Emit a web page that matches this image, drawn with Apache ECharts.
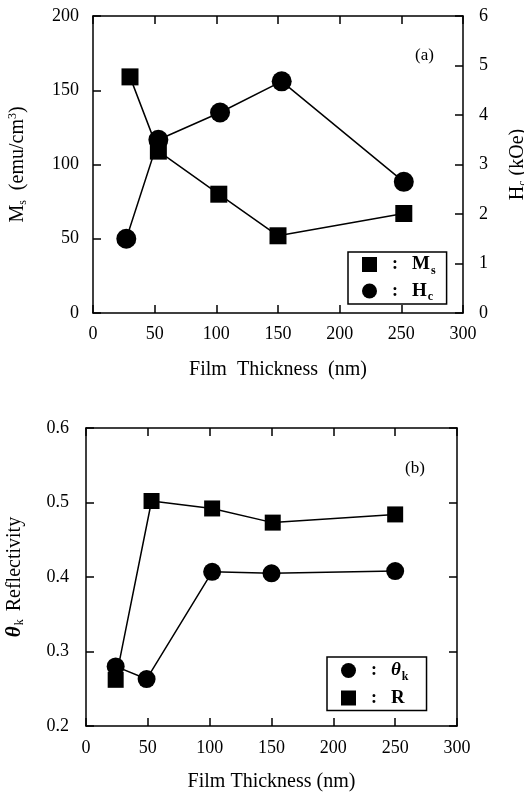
<!DOCTYPE html>
<html>
<head>
<meta charset="utf-8">
<script src="https://cdn.jsdelivr.net/npm/echarts@6/dist/echarts.min.js"></script>
<style>
  html, body { margin: 0; padding: 0; background: #fff; }
  #chart { width: 524px; height: 795px; }
</style>
</head>
<body>
<div id="chart"></div>
<script>
// panel (a): Ms and Hc vs film thickness
const thicknessMs = [30, 53, 102, 150, 252]
const msValues = [159, 109, 80, 52, 67]
const thicknessHc = [27, 53, 103, 153, 252]
const hcValues = [1.5, 3.5, 4.05, 4.68, 2.65]

// panel (b): Kerr rotation and reflectivity vs film thickness
const thicknessTheta = [24, 49, 102, 150, 250]
const thetaValues = [0.280, 0.263, 0.407, 0.405, 0.408]
const thicknessR = [24, 53, 102, 151, 250]
const rValues = [0.262, 0.502, 0.492, 0.473, 0.484]

const xTicks = [0, 300, 50]
const yTicksMs = [0, 200, 50]
const yTicksHc = [0, 6, 1]
const yTicksB = [0.2, 0.6, 0.1]

const pairs = (xs, ys) => xs.map((x, i) => [x, ys[i]])

const FONT = '"Liberation Serif", "DejaVu Serif", serif'
const lineStyle = { color: '#000', width: 1.5 }

const frameAxis = (extra) => Object.assign({
  type: 'value',
  splitLine: { show: false },
  axisLine: { show: true, onZero: false, lineStyle },
  axisTick: { show: true, inside: true, length: 8, lineStyle },
  axisLabel: { show: true, color: '#000', fontFamily: FONT, fontSize: 18 },
  nameTextStyle: { color: '#000', fontFamily: FONT, fontSize: 20 }
}, extra)

const hidden = { show: false }
const tickLabel = (margin, extra) => Object.assign({ color: '#000', fontFamily: FONT, fontSize: 18, margin }, extra)

const legendRich = {
  c: { fontFamily: FONT, fontSize: 18, fontWeight: 'bold', color: '#000', padding: [0, 14, 0, 10] },
  b: { fontFamily: FONT, fontSize: 19, fontWeight: 'bold', color: '#000' },
  bi: { fontFamily: FONT, fontSize: 19, fontWeight: 'bold', fontStyle: 'italic', color: '#000' },
  sub: { fontFamily: FONT, fontSize: 12, fontWeight: 'bold', color: '#000', verticalAlign: 'bottom', padding: [12, 0, 0, 1] }
}

const legendLabels = {
  Ms: '{c|:}{b|M}{sub|s}',
  Hc: '{c|:}{b|H}{sub|c}',
  θk: '{c|:}{bi|θ}{sub|k}',
  R: '{c|:}{b|R}'
}

const chart = echarts.init(document.getElementById('chart'))

const option = {
  backgroundColor: '#fff',
  animation: false,
  grid: [
    { left: 93, top: 16, width: 370, height: 297, outerBoundsMode: 'none' },
    { left: 86, top: 428, width: 371, height: 298, outerBoundsMode: 'none' }
  ],
  xAxis: [
    frameAxis({
      gridIndex: 0, min: xTicks[0], max: xTicks[1], interval: xTicks[2],
      axisLabel: tickLabel(12),
      name: 'Film  Thickness  (nm)', nameLocation: 'middle', nameGap: 47
    }),
    frameAxis({
      gridIndex: 0, position: 'top', min: xTicks[0], max: xTicks[1], interval: xTicks[2],
      axisLabel: hidden
    }),
    frameAxis({
      gridIndex: 1, min: xTicks[0], max: xTicks[1], interval: xTicks[2],
      axisLabel: tickLabel(13),
      name: 'Film Thickness (nm)', nameLocation: 'middle', nameGap: 46
    }),
    frameAxis({
      gridIndex: 1, position: 'top', min: xTicks[0], max: xTicks[1], interval: xTicks[2],
      axisLabel: hidden
    })
  ],
  yAxis: [
    frameAxis({
      gridIndex: 0, min: yTicksMs[0], max: yTicksMs[1], interval: yTicksMs[2],
      axisLabel: tickLabel(14),
      name: '{n|M}{sub|s}{n|  (emu/cm}{sup|3}{n|)}', nameLocation: 'middle', nameRotate: 90, nameGap: 64,
      nameTextStyle: {
        rich: {
          n: { fontFamily: FONT, fontSize: 20, color: '#000' },
          sub: { fontFamily: FONT, fontSize: 12, color: '#000', verticalAlign: 'bottom', padding: [10, 0, 0, 0] },
          sup: { fontFamily: FONT, fontSize: 12, color: '#000', verticalAlign: 'top', padding: [0, 0, 9, 0] }
        }
      }
    }),
    frameAxis({
      gridIndex: 0, position: 'right', min: yTicksHc[0], max: yTicksHc[1], interval: yTicksHc[2],
      axisLabel: tickLabel(16),
      name: '{n|H}{sub|c}{n| (kOe)}', nameLocation: 'middle', nameRotate: 90, nameGap: 44,
      nameTextStyle: {
        rich: {
          n: { fontFamily: FONT, fontSize: 20, color: '#000' },
          sub: { fontFamily: FONT, fontSize: 12, color: '#000', verticalAlign: 'bottom', padding: [10, 0, 0, 0] }
        }
      }
    }),
    frameAxis({
      gridIndex: 1, min: yTicksB[0], max: yTicksB[1], interval: yTicksB[2],
      axisLabel: tickLabel(17, { formatter: v => v.toFixed(1) }),
      name: '{t|θ}{sub|k}{n| Reflectivity}', nameLocation: 'middle', nameRotate: 90, nameGap: 60,
      nameTextStyle: {
        rich: {
          t: { fontFamily: FONT, fontSize: 21, fontStyle: 'italic', fontWeight: 'bold', color: '#000' },
          n: { fontFamily: FONT, fontSize: 20, color: '#000' },
          sub: { fontFamily: FONT, fontSize: 12, color: '#000', verticalAlign: 'bottom', padding: [10, 3, 0, 1] }
        }
      }
    }),
    frameAxis({
      gridIndex: 1, position: 'right', min: yTicksB[0], max: yTicksB[1], interval: yTicksB[2],
      axisLabel: hidden
    })
  ],
  legend: [
    {
      data: [{ name: 'Ms', icon: 'rect' }, { name: 'Hc', icon: 'circle' }],
      left: 348, top: 252, orient: 'vertical',
      itemWidth: 15, itemHeight: 15, itemGap: 5,
      padding: [3, 11, 1, 14],
      borderColor: '#000', borderWidth: 1.5,
      formatter: name => legendLabels[name],
      textStyle: { rich: legendRich }
    },
    {
      data: [{ name: 'θk', icon: 'circle' }, { name: 'R', icon: 'rect' }],
      left: 327, top: 657, orient: 'vertical',
      itemWidth: 15, itemHeight: 15, itemGap: 6,
      padding: [4, 18, 3, 14],
      borderColor: '#000', borderWidth: 1.5,
      formatter: name => legendLabels[name],
      textStyle: { rich: legendRich }
    }
  ],
  graphic: [
    { type: 'text', left: 415, top: 47, style: { text: '(a)', font: '17px ' + FONT, fill: '#000' } },
    { type: 'text', left: 405, top: 460, style: { text: '(b)', font: '17px ' + FONT, fill: '#000' } }
  ],
  series: [
    {
      name: 'Ms', type: 'line', xAxisIndex: 0, yAxisIndex: 0,
      data: pairs(thicknessMs, msValues),
      symbol: 'rect', symbolSize: 17,
      itemStyle: { color: '#000' }, lineStyle
    },
    {
      name: 'Hc', type: 'line', xAxisIndex: 0, yAxisIndex: 1,
      data: pairs(thicknessHc, hcValues),
      symbol: 'circle', symbolSize: 20,
      itemStyle: { color: '#000' }, lineStyle
    },
    {
      name: 'θk', type: 'line', xAxisIndex: 2, yAxisIndex: 2,
      data: pairs(thicknessTheta, thetaValues),
      symbol: 'circle', symbolSize: 18,
      itemStyle: { color: '#000' }, lineStyle
    },
    {
      name: 'R', type: 'line', xAxisIndex: 2, yAxisIndex: 2,
      data: pairs(thicknessR, rValues),
      symbol: 'rect', symbolSize: 16,
      itemStyle: { color: '#000' }, lineStyle
    }
  ]
}

chart.setOption(option)
</script>
</body>
</html>
